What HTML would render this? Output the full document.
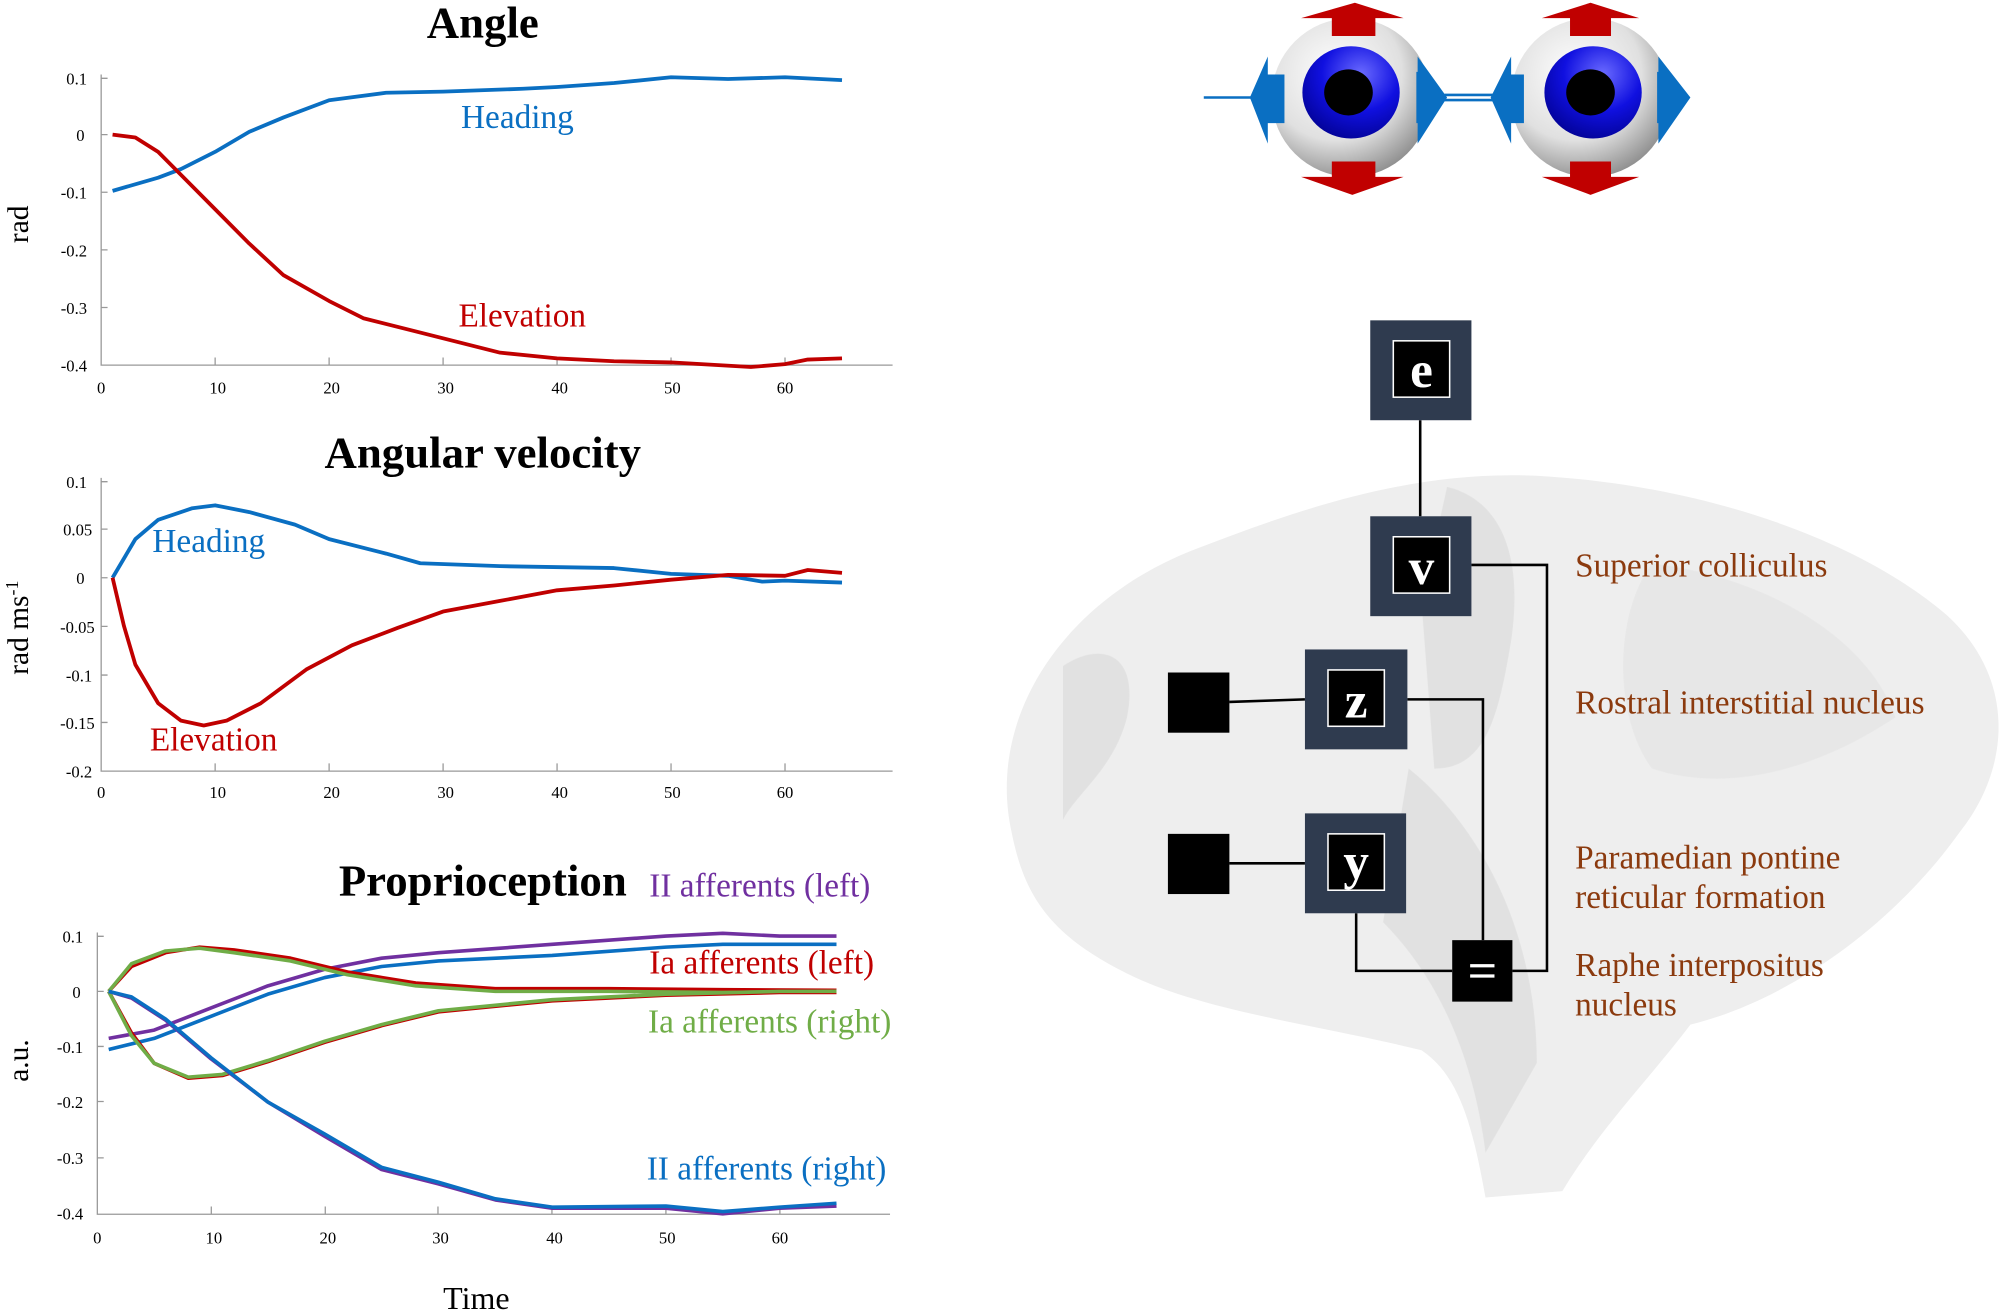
<!DOCTYPE html>
<html><head><meta charset="utf-8"><style>html,body{margin:0;padding:0;background:#fff}svg{display:block}</style></head>
<body>
<svg width="2008" height="1313" viewBox="0 0 1568 1025" xmlns="http://www.w3.org/2000/svg" font-family="Liberation Serif, serif">
<defs>
<radialGradient id="eyeg" cx="0.4" cy="0.35" r="0.7"><stop offset="0" stop-color="#ffffff"/><stop offset="0.6" stop-color="#e0e0e0"/><stop offset="1" stop-color="#8a8a8a"/></radialGradient>
<radialGradient id="irisg" cx="0.6" cy="0.3" r="0.8"><stop offset="0" stop-color="#6a6aff"/><stop offset="0.5" stop-color="#1010e0"/><stop offset="1" stop-color="#00008a"/></radialGradient>
</defs>
<!-- brain background -->
<g fill="#eeeeee">
<path d="M790,650 C770,560 830,470 930,430 C1020,395 1110,365 1210,372 C1330,380 1450,420 1520,480 C1575,530 1570,600 1530,650 C1480,720 1400,780 1320,800 C1290,840 1250,880 1220,930 L1160,935 C1150,880 1140,840 1110,820 C1030,800 940,790 880,760 C820,730 800,700 790,650 Z"/>
</g>
<g fill="#dedede" opacity="0.8">
<path d="M830,520 C860,500 890,510 880,560 C870,600 840,620 830,640 Z"/>
<path d="M1130,380 C1170,390 1190,430 1180,500 C1170,560 1160,600 1120,600 L1110,470 Z"/>
<path d="M1100,600 C1150,640 1200,720 1200,830 L1160,900 C1150,820 1120,760 1080,720 Z"/>
<path d="M1290,440 C1380,450 1460,500 1480,560 C1420,600 1350,620 1290,600 C1260,560 1260,480 1290,440 Z" opacity="0.5"/>
</g>
<!-- Chart 1 -->
<text x="377" y="29" font-size="35" font-weight="bold" text-anchor="middle">Angle</text>
<text transform="translate(22,175) rotate(-90)" font-size="23" text-anchor="middle">rad</text>
<g stroke="#999" stroke-width="1" fill="none">
<path d="M79,58V285H697"/>
<path d="M168,285v-6M257,285v-6M346,285v-6M435,285v-6M524,285v-6M613,285v-6M79,61h5M79,105h5M79,150h5M79,195h5M79,240h5"/>
</g>
<g font-size="13" text-anchor="end">
<text x="68" y="66">0.1</text><text x="66" y="110">0</text><text x="68" y="155">-0.1</text><text x="68" y="200">-0.2</text><text x="68" y="245">-0.3</text><text x="68" y="290">-0.4</text>
</g>
<g font-size="13" text-anchor="middle">
<text x="79" y="307">0</text><text x="170" y="307">10</text><text x="259" y="307">20</text><text x="348" y="307">30</text><text x="437" y="307">40</text><text x="525" y="307">50</text><text x="613" y="307">60</text>
</g>
<g transform="translate(79,105) scale(8.9,-448)" fill="none" stroke-width="3.8" stroke-linejoin="round">
<polyline vector-effect="non-scaling-stroke" stroke="#0a6fc2" points="1,-0.098 5,-0.075 7,-0.06 10,-0.03 13,0.005 16,0.03 20,0.06 25,0.073 30,0.075 37,0.08 40,0.083 45,0.09 50,0.1 55,0.097 60,0.1 65,0.095"/>
<polyline vector-effect="non-scaling-stroke" stroke="#c00000" points="1,0 3,-0.005 5,-0.03 7,-0.07 10,-0.13 13,-0.19 16,-0.245 20,-0.29 23,-0.32 27,-0.34 30,-0.355 35,-0.38 40,-0.39 45,-0.395 50,-0.397 57,-0.405 60,-0.4 62,-0.392 65,-0.39"/>
</g>
<text x="360" y="100" font-size="26" fill="#0a6fc2">Heading</text>
<text x="358" y="255" font-size="26" fill="#c00000">Elevation</text>
<!-- Chart 2 -->
<text x="377" y="365" font-size="35" font-weight="bold" text-anchor="middle">Angular velocity</text>
<text transform="translate(22,490) rotate(-90)" font-size="23" text-anchor="middle">rad ms<tspan font-size="14" dy="-8">-1</tspan></text>
<g stroke="#999" stroke-width="1" fill="none">
<path d="M79,373V602H697"/>
<path d="M168,602v-6M257,602v-6M346,602v-6M435,602v-6M524,602v-6M613,602v-6M79,376h5M79,413h5M79,451h5M79,489h5M79,527h5M79,564h5"/>
</g>
<g font-size="13" text-anchor="end">
<text x="68" y="381">0.1</text><text x="72" y="418">0.05</text><text x="66" y="456">0</text><text x="74" y="494">-0.05</text><text x="72" y="532">-0.1</text><text x="74" y="569">-0.15</text><text x="72" y="607">-0.2</text>
</g>
<g font-size="13" text-anchor="middle">
<text x="79" y="623">0</text><text x="170" y="623">10</text><text x="259" y="623">20</text><text x="348" y="623">30</text><text x="437" y="623">40</text><text x="525" y="623">50</text><text x="613" y="623">60</text>
</g>
<g transform="translate(79,451) scale(8.9,-754)" fill="none" stroke-width="3.8" stroke-linejoin="round">
<polyline vector-effect="non-scaling-stroke" stroke="#0a6fc2" points="1,0 3,0.04 5,0.06 8,0.072 10,0.075 13,0.068 17,0.055 20,0.04 25,0.025 28,0.015 35,0.012 45,0.01 50,0.004 55,0.002 58,-0.004 60,-0.003 65,-0.005"/>
<polyline vector-effect="non-scaling-stroke" stroke="#c00000" points="1,0 2,-0.05 3,-0.09 5,-0.13 7,-0.148 9,-0.153 11,-0.148 14,-0.13 18,-0.095 22,-0.07 26,-0.052 30,-0.035 35,-0.024 40,-0.013 45,-0.008 50,-0.002 55,0.003 60,0.002 62,0.008 65,0.005"/>
</g>
<text x="119" y="431" font-size="26" fill="#0a6fc2">Heading</text>
<text x="117" y="586" font-size="26" fill="#c00000">Elevation</text>
<!-- Chart 3 -->
<text x="377" y="699" font-size="35" font-weight="bold" text-anchor="middle">Proprioception</text>
<text transform="translate(22,828) rotate(-90)" font-size="23" text-anchor="middle">a.u.</text>
<g stroke="#999" stroke-width="1" fill="none">
<path d="M76,728V948H695"/>
<path d="M165,948v-6M254,948v-6M342,948v-6M431,948v-6M520,948v-6M609,948v-6M76,731h5M76,774h5M76,817h5M76,860h5M76,904h5"/>
</g>
<g font-size="13" text-anchor="end">
<text x="65" y="736">0.1</text><text x="63" y="779">0</text><text x="65" y="822">-0.1</text><text x="65" y="865">-0.2</text><text x="65" y="909">-0.3</text><text x="65" y="952">-0.4</text>
</g>
<g font-size="13" text-anchor="middle">
<text x="76" y="971">0</text><text x="167" y="971">10</text><text x="256" y="971">20</text><text x="344" y="971">30</text><text x="433" y="971">40</text><text x="521" y="971">50</text><text x="609" y="971">60</text>
</g>
<g transform="translate(76,774) scale(8.88,-432)" fill="none" stroke-width="3.6" stroke-linejoin="round">
<polyline vector-effect="non-scaling-stroke" stroke="#7030a0" points="1,-0.085 5,-0.07 10,-0.03 15,0.01 20,0.04 25,0.06 30,0.07 40,0.085 50,0.1 55,0.105 60,0.1 65,0.1"/>
<polyline vector-effect="non-scaling-stroke" stroke="#0a6fc2" points="1,-0.105 5,-0.085 10,-0.045 15,-0.005 20,0.025 25,0.045 30,0.055 40,0.065 50,0.08 55,0.085 60,0.085 65,0.085"/>
<polyline vector-effect="non-scaling-stroke" stroke="#c00000" points="1,0 3,0.045 6,0.07 9,0.08 12,0.075 17,0.06 22,0.035 28,0.015 35,0.005 45,0.005 55,0.003 65,0.002"/>
<polyline vector-effect="non-scaling-stroke" stroke="#70ad47" points="1,0 3,0.05 6,0.073 9,0.078 12,0.07 17,0.055 22,0.03 28,0.01 35,0 45,0 55,-0.002 65,0"/>
<polyline vector-effect="non-scaling-stroke" stroke="#c00000" points="1,0 3,-0.075 5,-0.13 8,-0.157 11,-0.152 15,-0.127 20,-0.092 25,-0.062 30,-0.037 40,-0.017 50,-0.007 60,-0.002 65,-0.002"/>
<polyline vector-effect="non-scaling-stroke" stroke="#70ad47" points="1,0 3,-0.08 5,-0.13 8,-0.155 11,-0.15 15,-0.125 20,-0.09 25,-0.06 30,-0.035 40,-0.015 50,-0.005 60,0 65,0"/>
<polyline vector-effect="non-scaling-stroke" stroke="#7030a0" points="1,0 3,-0.012 6,-0.052 10,-0.122 15,-0.2 20,-0.262 25,-0.322 30,-0.348 35,-0.377 40,-0.392 50,-0.392 55,-0.402 60,-0.392 65,-0.388"/>
<polyline vector-effect="non-scaling-stroke" stroke="#0a6fc2" points="1,0 3,-0.01 6,-0.05 10,-0.12 15,-0.2 20,-0.258 25,-0.318 30,-0.345 35,-0.375 40,-0.39 50,-0.388 55,-0.398 60,-0.39 65,-0.383"/>
</g>
<text x="507" y="700" font-size="26" fill="#7030a0">II afferents (left)</text>
<text x="507" y="760" font-size="26" fill="#c00000">Ia afferents (left)</text>
<text x="506" y="806" font-size="26" fill="#70ad47">Ia afferents (right)</text>
<text x="505" y="921" font-size="26" fill="#0a6fc2">II afferents (right)</text>
<text x="372" y="1022" font-size="25" text-anchor="middle">Time</text>
<!-- eyes -->
<g stroke="#0a6fc2" stroke-width="2"><line x1="940" y1="76" x2="985" y2="76"/><line x1="1128" y1="74" x2="1170" y2="74"/><line x1="1128" y1="78" x2="1170" y2="78"/></g>
<g>
<ellipse cx="1055" cy="76" rx="62" ry="62" fill="url(#eyeg)"/>
<ellipse cx="1055" cy="72" rx="38" ry="36" fill="url(#irisg)"/>
<ellipse cx="1053" cy="72" rx="19" ry="18" fill="#000"/>
<path d="M1016,14 L1058,2 L1096,14 H1074 V28 H1040 V14Z" fill="#c00000"/>
<path d="M1040,126 H1074 V138 H1096 L1056,152 L1016,138 H1040Z" fill="#c00000"/>
<path d="M990,44 V58 H1003 V96 H990 V112 L976,76Z" fill="#0a6fc2"/>
<path d="M1107,44 L1130,76 L1107,112 V96 H1106 V56 H1107Z" fill="#0a6fc2"/>
</g>
<g>
<ellipse cx="1242" cy="76" rx="62" ry="62" fill="url(#eyeg)"/>
<ellipse cx="1244" cy="72" rx="38" ry="36" fill="url(#irisg)"/>
<ellipse cx="1242" cy="72" rx="19" ry="18" fill="#000"/>
<path d="M1204,14 L1242,2 L1280,14 H1258 V28 H1226 V14Z" fill="#c00000"/>
<path d="M1226,126 H1258 V138 H1280 L1242,152 L1204,138 H1226Z" fill="#c00000"/>
<path d="M1180,44 V58 H1190 V96 H1180 V112 L1164,76Z" fill="#0a6fc2"/>
<path d="M1295,44 L1320,76 L1295,112 V96 H1294 V56 H1295Z" fill="#0a6fc2"/>
</g>
<!-- network -->
<g stroke="#000" stroke-width="2" fill="none">
<path d="M1109,328V403"/>
<path d="M1149,441H1208V758H1181"/>
<path d="M1099,546H1158V734"/>
<path d="M1059,713V758H1134"/>
<path d="M960,548L1019,546M960,674H1019"/>
</g>
<g fill="#2f3b4f">
<rect x="1070" y="250" width="79" height="78"/>
<rect x="1070" y="403" width="79" height="78"/>
<rect x="1019" y="507" width="80" height="78"/>
<rect x="1019" y="635" width="79" height="78"/>
</g>
<g fill="#000" stroke="#fff" stroke-width="1.2">
<rect x="1088" y="266" width="44" height="44"/>
<rect x="1088" y="419" width="44" height="44"/>
<rect x="1037" y="523" width="44" height="44"/>
<rect x="1037" y="651" width="44" height="44"/>
</g>
<rect x="912" y="525" width="48" height="47" fill="#000"/>
<rect x="912" y="651" width="48" height="47" fill="#000"/>
<rect x="1134" y="734" width="47" height="48" fill="#000"/>
<g fill="#fff" font-size="40" font-weight="bold" text-anchor="middle">
<text x="1110" y="302">e</text><text x="1110" y="456">v</text><text x="1059" y="560">z</text><text x="1059" y="686">y</text>
</g>
<g stroke="#fff" stroke-width="2.5"><path d="M1148,754H1167M1148,762H1167"/></g>
<g fill="#8b3a0e" font-size="26">
<text x="1230" y="450">Superior colliculus</text>
<text x="1230" y="557">Rostral interstitial nucleus</text>
<text x="1230" y="678">Paramedian pontine</text>
<text x="1230" y="709">reticular formation</text>
<text x="1230" y="762">Raphe interpositus</text>
<text x="1230" y="793">nucleus</text>
</g>
</svg>
</body></html>
